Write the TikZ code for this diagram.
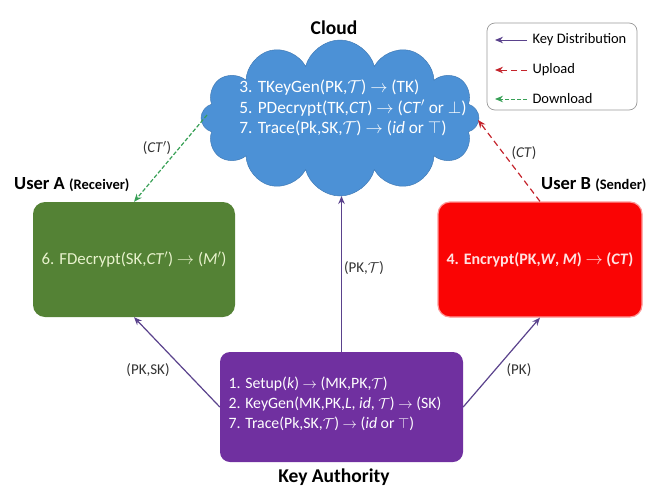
\documentclass[tikz,border=0pt]{standalone}
\usepackage{amsmath}
\usepackage{fontspec}
\setmainfont{Carlito}
\usetikzlibrary{shapes.symbols,arrows.meta}
\definecolor{cloudblue}{RGB}{76,145,214}
\definecolor{boxgreen}{RGB}{84,130,53}
\definecolor{boxred}{RGB}{250,4,4}
\definecolor{boxpurple}{RGB}{112,48,160}
\definecolor{kdpurple}{RGB}{90,66,140}
\definecolor{dlgreen}{RGB}{56,160,86}
\definecolor{ulred}{RGB}{196,36,44}
\definecolor{lbl}{RGB}{50,50,50}
\newcommand{\vi}[1]{\textit{#1}}
\tikzset{
  rbox/.style={rounded corners=12pt, minimum width=#1, minimum height=115pt, inner sep=0pt},
  title/.style={font=\fontsize{19.5}{22}\selectfont\bfseries, text=black},
  lab/.style={font=\fontsize{15}{17}\selectfont, text=lbl},
  kd/.style={draw=kdpurple, line width=1.2pt, -{Stealth[length=8pt,width=6.5pt]}},
  ul/.style={draw=ulred, line width=1.2pt, dash pattern=on 6pt off 4pt, -{Stealth[length=8pt,width=6.5pt]}},
  dl/.style={draw=dlgreen, line width=1.2pt, dash pattern=on 4pt off 2pt, -{Stealth[length=8pt,width=6.5pt]}},
  legtxt/.style={font=\fontsize{14.5}{16}\selectfont, text=black, anchor=west}
}
\begin{document}
\begin{tikzpicture}[x=1pt,y=-1pt]
\useasboundingbox (0,0) rectangle (651,493);
% cloud
\node[cloud, cloud puffs=12, aspect=1.75, fill=cloudblue, draw=cloudblue!85!black, line width=0.5pt,
      minimum width=278pt, minimum height=156pt, inner sep=0pt] (cl) at (340,118) {};
\node[align=left, text=white, font=\fontsize{17.3}{20.5}\selectfont] (cltxt) at (353,108)
  {3. TKeyGen(PK,$\mathcal{T}$) $\rightarrow$ (TK)\\
   5. PDecrypt(TK,\vi{CT}) $\rightarrow$ (\vi{CT}$'$ or $\perp$)\\
   7. Trace(Pk,SK,$\mathcal{T}$) $\rightarrow$ (\vi{id} or $\top$)};
\node[title] (cltitle) at (334,28) {Cloud};
% legend
\node[draw=gray!80, line width=0.7pt, rounded corners=8pt, minimum width=150pt, minimum height=87pt] (lg) at (562,66.5) {};
\coordinate (l1a) at (527,40); \coordinate (l1b) at (495,40);
\coordinate (l2a) at (527,70); \coordinate (l2b) at (495,70);
\coordinate (l3a) at (527,99); \coordinate (l3b) at (495,99);
\draw[kd, line width=1pt] (l1a) -- (l1b);
\draw[ul, line width=1pt] (l2a) -- (l2b);
\draw[dl, line width=1pt] (l3a) -- (l3b);
\node[legtxt] (lt1) at (529,40) {Key Distribution};
\node[legtxt] (lt2) at (529,70) {Upload};
\node[legtxt] (lt3) at (529,99) {Download};
% user A
\node[rbox=202pt, fill=boxgreen, text={rgb,255:red,232;green,242;blue,205}, font=\fontsize{16.8}{18}\selectfont] (ua) at (134,259.5)
  {6. FDecrypt(SK,\vi{CT}$'$) $\rightarrow$ (\vi{M}$'$)};
\node[anchor=west, inner sep=0pt] (uat) at (14,185) {\fontsize{18.5}{20}\selectfont\bfseries User A \fontsize{14.5}{16}\selectfont(Receiver)};
% user B
\node[rbox=204pt, fill=boxred, draw={rgb,255:red,255;green,150;blue,150}, line width=1.2pt, text={rgb,255:red,255;green,225;blue,225}, font=\fontsize{16}{18}\selectfont\bfseries] (ub) at (540,259.5)
  {4. Encrypt(PK,\textit{W}, \textit{M}) $\rightarrow$ (\textit{CT})};
\node[anchor=west, inner sep=0pt] (ubt) at (541,185) {\fontsize{18.5}{20}\selectfont\bfseries User B \fontsize{14.5}{16}\selectfont(Sender)};
% key authority
\node[rounded corners=10pt, minimum width=243pt, minimum height=110pt, fill=boxpurple] (ka) at (341.5,407) {};
\node[align=left, anchor=west, text=white, font=\fontsize{15.8}{20}\selectfont] (katxt) at (225,404)
  {1. Setup(\vi{k}) $\rightarrow$ (MK,PK,$\mathcal{T}$)\\
   2. KeyGen(MK,PK,\vi{L}, \vi{id}, $\mathcal{T}$) $\rightarrow$ (SK)\\
   7. Trace(Pk,SK,$\mathcal{T}$) $\rightarrow$ (\vi{id} or $\top$)};
\node[title] (kat) at (334,477) {Key Authority};
% connectors
\coordinate (cbot) at (341.5,196);
\coordinate (cleft) at (207,115);
\coordinate (cright) at (478,120);
\draw[kd] (ka.west) -- (ua.south);
\draw[kd] (ka.north) -- (cbot);
\draw[kd] (ka.east) -- (ub.south);
\draw[dl] (cleft) -- (ua.north);
\draw[ul] (ub.north) -- (cright);
\node[lab] (l1) at (148,370) {(PK,SK)};
\node[lab] (l2) at (364,268) {(PK,$\mathcal{T}$)};
\node[lab] (l3) at (519,370) {(PK)};
\node[lab] (l4) at (157,148) {(\vi{CT}$'$)};
\node[lab] (l5) at (524,153) {(\vi{CT})};
\end{tikzpicture}
\end{document}
